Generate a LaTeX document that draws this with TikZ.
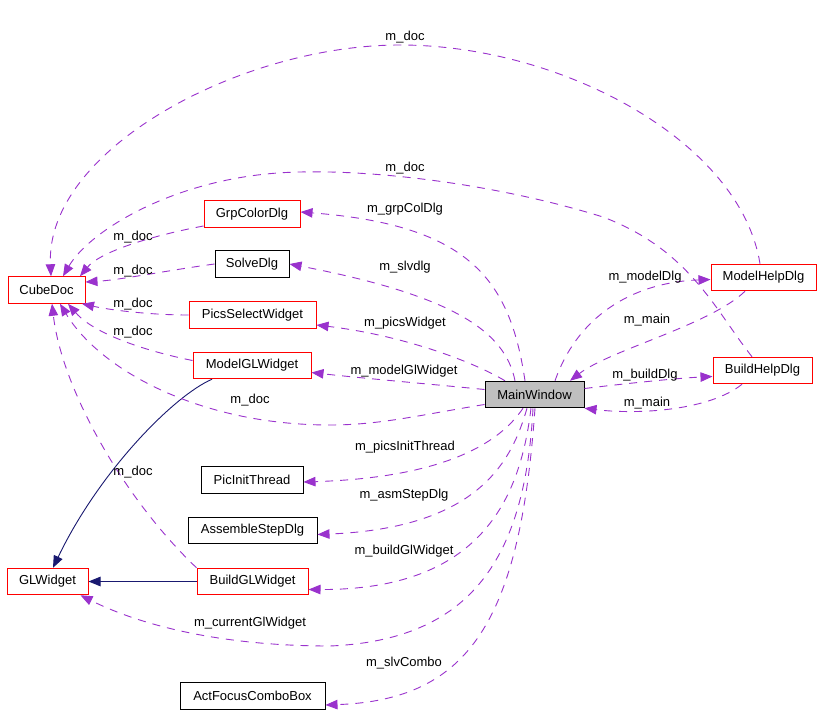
\documentclass[tikz,border=0pt]{standalone}
\usepackage{fontspec}
\setmainfont{Liberation Sans}
\usetikzlibrary{arrows.meta}
\definecolor{depc}{HTML}{9A32CD}
\definecolor{inhc}{HTML}{191970}
\definecolor{boxgray}{HTML}{BFBFBF}
\begin{document}
\begin{tikzpicture}[x=1pt,y=-1pt,
  cls/.style={draw=red,line width=1pt,minimum height=26.5pt,inner sep=0pt,font=\fontsize{13}{15}\selectfont},
  clsb/.style={cls,draw=black},
  lbl/.style={font=\fontsize{13}{15}\selectfont,inner sep=0pt},
  usage/.style={draw=depc,line width=0.9pt,dash pattern=on 8pt off 7pt,-{Triangle[length=12pt,width=9.5pt]}},
  inherit/.style={draw=inhc,line width=0.9pt,-{Triangle[length=12pt,width=9.5pt]}}]
\useasboundingbox[fill=white] (0,0) rectangle (821,714);

% nodes
\node[cls,minimum width=77pt] (cube) at (46.5,290) {CubeDoc};
\node[cls,minimum width=96pt] (grp) at (252,214) {GrpColorDlg};
\node[clsb,minimum width=74pt] (solve) at (252,264) {SolveDlg};
\node[cls,minimum width=127pt] (pics) at (252.5,315) {PicsSelectWidget};
\node[cls,minimum width=118pt] (model) at (252,365.5) {ModelGLWidget};
\node[clsb,fill=boxgray,minimum width=99pt] (main) at (534.5,394.5) {MainWindow};
\node[cls,minimum width=105pt] (mhelp) at (763.5,277.5) {ModelHelpDlg};
\node[cls,minimum width=99pt] (bhelp) at (762.5,370.5) {BuildHelpDlg};
\node[clsb,minimum width=102pt] (pinit) at (252,480) {PicInitThread};
\node[clsb,minimum width=129pt] (asm) at (252.5,530.5) {AssembleStepDlg};
\node[cls,minimum width=81pt] (glw) at (47.5,581.5) {GLWidget};
\node[cls,minimum width=111pt] (bgl) at (252.5,581.5) {BuildGLWidget};
\node[clsb,minimum width=145pt] (afc) at (252.5,696) {ActFocusComboBox};

% inheritance
\draw[inherit] ([xshift=-40pt]model.south) .. controls (175,395) and (100,470) .. ([xshift=5.5pt]glw.north);
\draw[inherit] (bgl.west) -- (glw.east);

% m_doc edges to CubeDoc
\draw[usage] ([xshift=-3.5pt]mhelp.north) .. controls (740,140) and (560,45) .. (400,45)
  .. controls (240,45) and (45,150) .. ([xshift=4.5pt]cube.north);
\draw[usage] ([xshift=-10.5pt]bhelp.north) .. controls (715,310) and (690,250) .. (603,217)
  .. controls (500,185) and (380,170) .. (300,172)
  .. controls (180,174) and (90,230) .. ([xshift=16.5pt]cube.north);
\draw[usage] ([yshift=-12pt]grp.west) .. controls (150,236) and (100,252) .. ([xshift=33.5pt]cube.north);
\draw[usage] (solve.west) .. controls (170,270) and (120,280) .. ([yshift=8pt]cube.east);
\draw[usage] (pics.west) .. controls (150,315) and (110,310) .. ([xshift=35.5pt]cube.south);
\draw[usage] ([yshift=5pt]model.west) .. controls (150,352) and (95,335) .. ([xshift=21.5pt]cube.south);
\draw[usage] ([yshift=-10pt]main.west) .. controls (420,415) and (380,425) .. (330,425)
  .. controls (200,425) and (100,370) .. ([xshift=13.5pt]cube.south);
\draw[usage] (bgl.north west) .. controls (125,500) and (62,390) .. ([xshift=5.5pt]cube.south);

% MainWindow outgoing
\draw[usage] ([xshift=-9.5pt]main.north) .. controls (510,280) and (470,225) .. ([yshift=2pt]grp.east);
\draw[usage] ([xshift=-19.5pt]main.north) .. controls (505,330) and (450,295) .. (solve.east);
\draw[usage] ([xshift=-29.5pt]main.north) .. controls (470,360) and (400,335) .. ([yshift=-10pt]pics.east);
\draw[usage] ([yshift=5pt]main.west) .. controls (440,385) and (360,378) .. ([yshift=-7pt]model.east);
\draw[usage] ([xshift=-11.5pt]main.south) .. controls (495,450) and (430,478) .. ([yshift=-2pt]pinit.east);
\draw[usage] ([xshift=-7.5pt]main.south) .. controls (512,460) and (480,528) .. ([yshift=-4pt]asm.east);
\draw[usage] ([xshift=-3.5pt]main.south) .. controls (520,500) and (480,590) .. ([yshift=-8pt]bgl.east);
\draw[usage] ([xshift=-1.5pt]main.south) .. controls (525,560) and (470,640) .. (330,646)
  .. controls (220,646) and (140,625) .. ([xshift=-8pt]glw.south east);
\draw[usage] ([xshift=0.5pt]main.south) .. controls (520,620) and (470,700) .. ([yshift=-9pt]afc.east);
\draw[usage] ([xshift=20.5pt]main.north) .. controls (580,310) and (640,282) .. ([yshift=-2pt]mhelp.west);
\draw[usage] ([yshift=6pt]main.east) .. controls (630,383) and (680,378) .. ([yshift=-6pt]bhelp.west);

% back references
\draw[usage] ([xshift=-18.5pt]mhelp.south) .. controls (710,325) and (610,350) .. ([xshift=35.5pt]main.north);
\draw[usage] ([xshift=-20.5pt]bhelp.south) .. controls (710,410) and (640,415) .. (main.south east);

% labels
\node[lbl] (l1) at (405,37) {m\_doc};
\node[lbl] (l2) at (405,168) {m\_doc};
\node[lbl] (l3) at (133,237) {m\_doc};
\node[lbl] (l4) at (133,271) {m\_doc};
\node[lbl] (l5) at (133,304) {m\_doc};
\node[lbl] (l6) at (133,332) {m\_doc};
\node[lbl] (l7) at (250,400) {m\_doc};
\node[lbl] (l8) at (133,472) {m\_doc};
\node[lbl] (l9) at (405,209) {m\_grpColDlg};
\node[lbl] (l10) at (405,267) {m\_slvdlg};
\node[lbl] (l11) at (405,323) {m\_picsWidget};
\node[lbl] (l12) at (404,371) {m\_modelGlWidget};
\node[lbl] (l13) at (405,447) {m\_picsInitThread};
\node[lbl] (l14) at (404,495) {m\_asmStepDlg};
\node[lbl] (l15) at (404,551) {m\_buildGlWidget};
\node[lbl] (l16) at (250,623) {m\_currentGlWidget};
\node[lbl] (l17) at (404,663) {m\_slvCombo};
\node[lbl] (l18) at (645,277) {m\_modelDlg};
\node[lbl] (l19) at (647,320) {m\_main};
\node[lbl] (l20) at (645,375) {m\_buildDlg};
\node[lbl] (l21) at (647,403) {m\_main};
\end{tikzpicture}
\end{document}
